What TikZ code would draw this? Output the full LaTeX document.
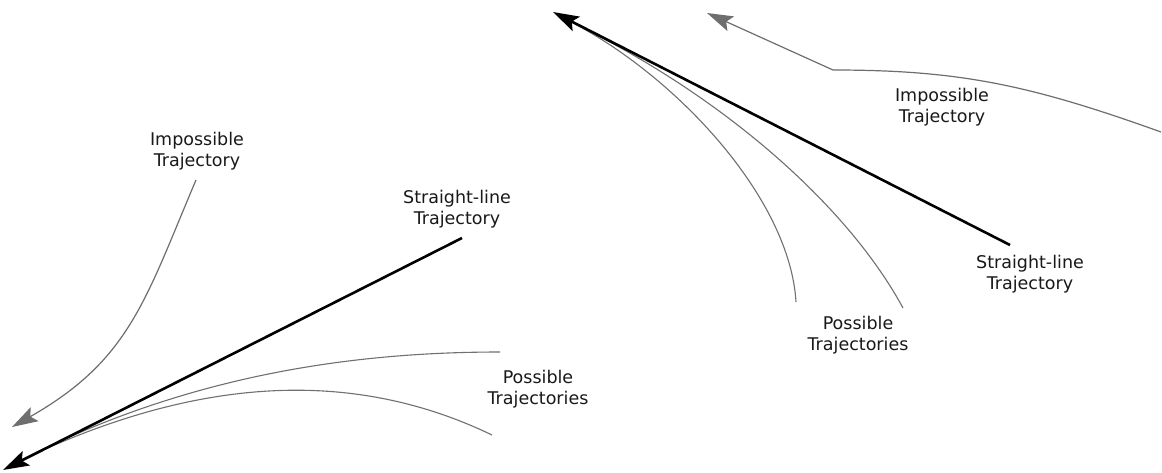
\documentclass[tikz,border=0pt]{standalone}
\usepackage{fontspec}
\setmainfont{DejaVu Sans}
\usetikzlibrary{arrows.meta}
\definecolor{impgray}{HTML}{6E6E6E}
\definecolor{posgray}{HTML}{707070}
\tikzset{
  lbl/.style={align=center, font=\fontsize{17.5}{20.5}\selectfont, text=black!90, inner sep=0pt},
  straightarrow/.style={line width=2.6pt, black, -{Stealth[length=26pt,width=16pt,inset=5pt]}},
  imparrow/.style={line width=1.2pt, impgray, -{Stealth[length=26pt,width=16pt,inset=5pt]}},
  posline/.style={line width=1.1pt, posgray},
}
\begin{document}
\begin{tikzpicture}[x=1pt,y=-1pt]
\useasboundingbox[fill=white] (0,0) rectangle (1162,472);
% ---------- left panel ----------
\coordinate (Ls) at (462,238);
\coordinate (Lt) at (3,470);
\coordinate (Li0) at (196,180);
\coordinate (Lit) at (12,427);
\coordinate (Lp0) at (15,463);
\coordinate (Lp1) at (500,352);
\coordinate (Lp2) at (492,435);
\node[lbl] (Limp) at (197,151) {Impossible\\Trajectory};
\node[lbl] (Lstr) at (457,209) {Straight-line\\Trajectory};
\node[lbl] (Lpos) at (538,389) {Possible\\Trajectories};
\draw[posline] (Lp0) .. controls (170,383) and (330,352) .. (Lp1);
\draw[posline] (Lp0) .. controls (150,398) and (320,352) .. (Lp2);
\draw[straightarrow] (Ls) -- (Lt);
\draw[imparrow] (Li0) .. controls (145,300) and (130,360) .. (Lit);
% ---------- right panel ----------
\coordinate (Rs) at (1010,245);
\coordinate (Rt) at (553,12);
\coordinate (Ri0) at (1161,132);
\coordinate (Rik) at (833,70);
\coordinate (Rit) at (707,13);
\coordinate (Rp0) at (575,24);
\coordinate (Rp1) at (796,302);
\coordinate (Rp2) at (903,308);
\node[lbl] (Rimp) at (942,107) {Impossible\\Trajectory};
\node[lbl] (Rstr) at (1030,274) {Straight-line\\Trajectory};
\node[lbl] (Rpos) at (858,335) {Possible\\Trajectories};
\draw[posline] (Rp0) .. controls (680,80) and (790,200) .. (Rp1);
\draw[posline] (Rp0) .. controls (730,100) and (850,210) .. (Rp2);
\draw[straightarrow] (Rs) -- (Rt);
\draw[imparrow] (Ri0) .. controls (1030,85) and (960,70) .. (Rik) -- (Rit);
\end{tikzpicture}
\end{document}
